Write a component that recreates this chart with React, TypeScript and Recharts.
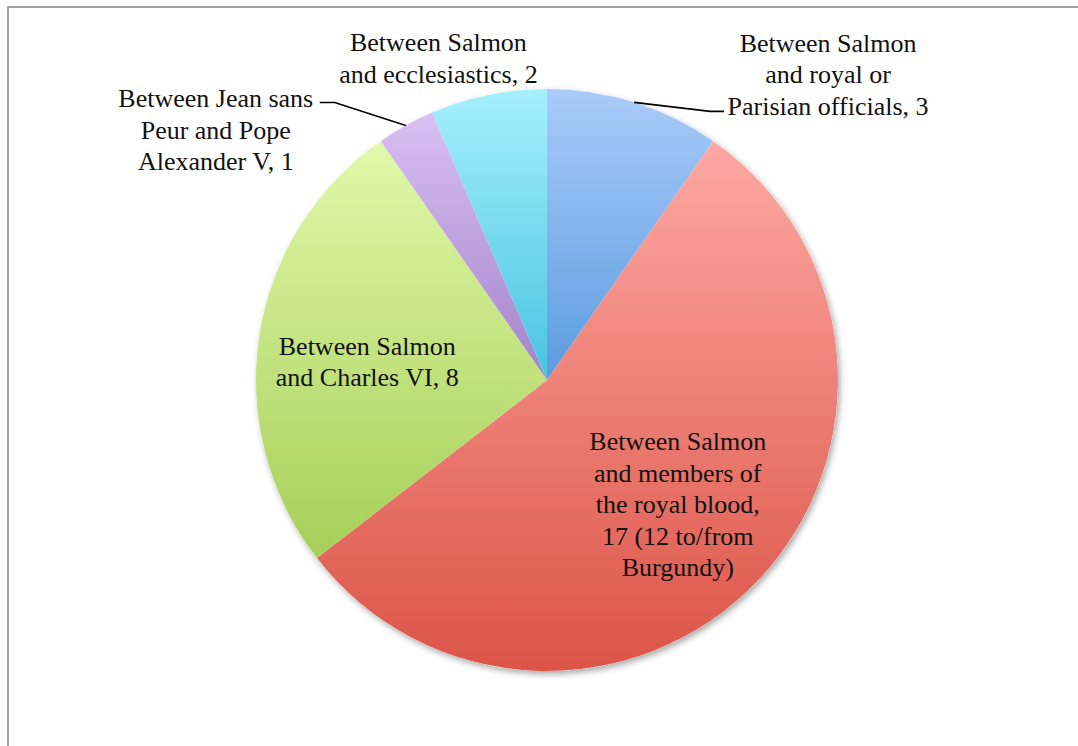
import { PieChart, Pie, Cell } from "recharts";

// letters exchanged, by correspondents
const categories = [
  "Between Salmon and royal or Parisian officials",
  "Between Salmon and members of the royal blood",
  "Between Salmon and Charles VI",
  "Between Jean sans Peur and Pope Alexander V",
  "Between Salmon and ecclesiastics",
];
const counts = [3, 17, 8, 1, 2];
const labelLines = [
  ["Between Salmon", "and royal or", "Parisian officials, 3"],
  ["Between Salmon", "and members of", "the royal blood,", "17 (12 to/from", "Burgundy)"],
  ["Between Salmon", "and Charles VI, 8"],
  ["Between Jean sans", "Peur and Pope", "Alexander V, 1"],
  ["Between Salmon", "and ecclesiastics, 2"],
];
const topColors = ["#aacbf9", "#fda8a3", "#e1f8aa", "#d9c0f2", "#a6effc"];
const bottomColors = ["#5b9ce0", "#dc5447", "#a6cf58", "#a283ca", "#48c4e1"];

const data = categories.map((name, i) => ({ name, value: counts[i] }));
const total = counts.reduce((a, b) => a + b, 0);

// where each label sits relative to its slice
const placement: any[] = [
  { inside: false, dx: 194, dy: -28, leader: [[76, 9], [90, 9]] },
  { inside: true, r: 0.62, dy: 0 },
  { inside: true, r: 0.625, dy: 9 },
  { inside: false, dx: -190, dy: 4, leader: [[-71, -23], [-86, -23]] },
  { inside: false, dx: -50, dy: -37 },
];

const RADIAN = Math.PI / 180;
const LINE_H = 31.5;
const SERIF = '"Liberation Serif", "Times New Roman", "DejaVu Serif", serif';

const renderLabel = (props: any) => {
  const { cx, cy, midAngle, outerRadius, index } = props;
  const p = placement[index];
  const cos = Math.cos(-midAngle * RADIAN);
  const sin = Math.sin(-midAngle * RADIAN);
  let tx: number, ty: number;
  let leader: any = null;
  if (p.inside) {
    tx = cx + outerRadius * p.r * cos;
    ty = cy + outerRadius * p.r * sin + p.dy;
  } else {
    const ax = cx + outerRadius * cos;
    const ay = cy + outerRadius * sin;
    tx = ax + p.dx;
    ty = ay + p.dy;
    if (p.leader) {
      const pts = [[ax, ay], ...p.leader.map((d: number[]) => [ax + d[0], ay + d[1]])];
      leader = (
        <polyline
          points={pts.map((q: number[]) => q.join(",")).join(" ")}
          fill="none"
          stroke="#000"
          strokeWidth={1.6}
        />
      );
    }
  }
  const lines = labelLines[index];
  const y0 = ty - ((lines.length - 1) / 2) * LINE_H;
  return (
    <g key={`lbl-${index}`}>
      {leader}
      <text
        x={tx}
        y={y0}
        textAnchor="middle"
        dominantBaseline="central"
        fill="#111"
        style={{ fontFamily: SERIF, fontSize: 26 }}
      >
        {lines.map((l, i) => (
          <tspan key={i} x={tx} y={y0 + i * LINE_H} style={{ fontFamily: SERIF }}>
            {l}
          </tspan>
        ))}
      </text>
    </g>
  );
};

export default function App() {
  return (
    <div
      style={{
        position: "fixed",
        left: 0,
        top: 0,
        width: 1078,
        height: 746,
        overflow: "hidden",
        background: "#fff",
        fontFamily: SERIF,
      }}
    >
      <div
        style={{
          position: "absolute",
          left: 7,
          top: 6,
          width: 1200,
          height: 900,
          borderLeft: "2px solid #a2a2a2",
          borderTop: "2px solid #a2a2a2",
        }}
      />
      <div style={{ position: "absolute", left: 0, top: 0 }}>
        <PieChart width={1078} height={746} margin={{ top: 0, right: 0, bottom: 0, left: 0 }}>
          <defs>
            {counts.map((_, i) => (
              <linearGradient key={i} id={`grad${i}`} x1="0" y1="0" x2="0" y2="1">
                <stop offset="0%" stopColor={topColors[i]} />
                <stop offset="100%" stopColor={bottomColors[i]} />
              </linearGradient>
            ))}
            <filter id="pieShadow" x="-10%" y="-10%" width="120%" height="120%">
              <feDropShadow dx="2" dy="3" stdDeviation="3" floodColor="#000" floodOpacity="0.35" />
            </filter>
          </defs>
          {/* shadow disc behind the slices */}
          <Pie
            data={[{ name: "all", value: total }]}
            dataKey="value"
            cx={547}
            cy={380}
            outerRadius={291}
            startAngle={90}
            endAngle={-270}
            stroke="none"
            isAnimationActive={false}
            label={false}
            labelLine={false}
          >
            <Cell fill="#ffffff" filter="url(#pieShadow)" />
          </Pie>
          <Pie
            data={data}
            dataKey="value"
            nameKey="name"
            cx={547}
            cy={380}
            outerRadius={291}
            startAngle={90}
            endAngle={-270}
            stroke="none"
            isAnimationActive={false}
            labelLine={false}
            label={renderLabel}
          >
            {data.map((_, i) => (
              <Cell key={i} fill={`url(#grad${i})`} />
            ))}
          </Pie>
        </PieChart>
      </div>
    </div>
  );
}
